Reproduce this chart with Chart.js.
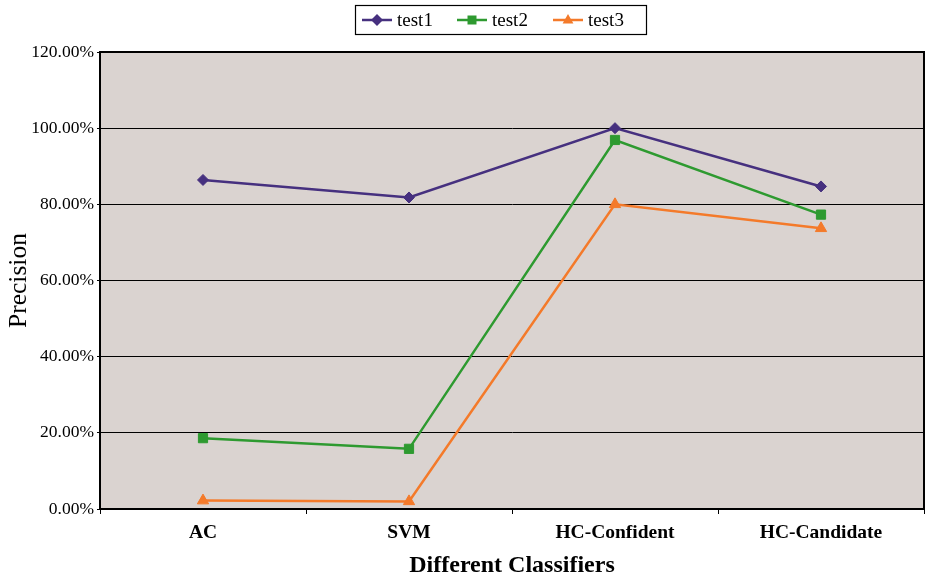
<!DOCTYPE html>
<html>
<head>
<meta charset="utf-8">
<script src="https://cdn.jsdelivr.net/npm/chart.js@4/dist/chart.umd.min.js"></script>
<style>
  html, body { margin: 0; padding: 0; background: #ffffff; overflow: hidden; }
  canvas { display: block; }
</style>
</head>
<body>
<canvas id="chart" width="926" height="580"></canvas>
<script>
// Classifier precision per test run (percent)
const categories = ['AC', 'SVM', 'HC-Confident', 'HC-Candidate'];
const test1 = [86.4, 81.8, 100.0, 84.7];
const test2 = [18.6, 15.8, 96.9, 77.3];
const test3 = [2.2, 2.0, 80.0, 73.7];
const seriesNames = ['test1', 'test2', 'test3'];
const yTicks = [0, 20, 40, 60, 80, 100, 120];

const colors = ['#46307f', '#2e9a30', '#f47a2a'];
const styles = ['rectRot', 'rect', 'triangle'];
const radii = [5.5, 6.5, 6.5];

const serif = '"Liberation Serif", "Times New Roman", serif';

// Plot background and frame
const plotFrame = {
  id: 'plotFrame',
  beforeDraw(chart) {
    const { ctx, chartArea: a } = chart;
    ctx.save();
    ctx.fillStyle = '#dad3d0';
    ctx.fillRect(a.left, a.top, a.right - a.left, a.bottom - a.top);
    ctx.restore();
  },
  afterDatasetsDraw(chart) {
    const { ctx, chartArea: a } = chart;
    ctx.save();
    ctx.strokeStyle = '#000000';
    ctx.lineWidth = 2;
    ctx.strokeRect(a.left, a.top, a.right - a.left, a.bottom - a.top);
    ctx.restore();
  }
};

function drawMarker(ctx, style, r, x, y) {
  if (style === 'rectRot') {
    ctx.moveTo(x, y - r); ctx.lineTo(x + r, y); ctx.lineTo(x, y + r); ctx.lineTo(x - r, y); ctx.closePath();
  } else if (style === 'rect') {
    ctx.rect(x - r * 0.75, y - r * 0.75, r * 1.5, r * 1.5);
  } else {
    ctx.moveTo(x, y - r); ctx.lineTo(x + r * 0.9, y + r * 0.6); ctx.lineTo(x - r * 0.9, y + r * 0.6); ctx.closePath();
  }
}

// Boxed legend with line + marker swatches
const boxLegend = {
  id: 'boxLegend',
  afterDraw(chart) {
    const { ctx } = chart;
    const box = { x: 355.5, y: 5.5, w: 291, h: 29 };
    ctx.save();
    ctx.strokeStyle = '#000000';
    ctx.lineWidth = 1.2;
    ctx.strokeRect(box.x, box.y, box.w, box.h);
    ctx.font = '19px ' + serif;
    ctx.textBaseline = 'middle';
    const starts = [362, 457, 553];
    const cy = 20;
    chart.data.datasets.forEach((ds, i) => {
      const x0 = starts[i];
      ctx.strokeStyle = ds.borderColor;
      ctx.lineWidth = 2.5;
      ctx.beginPath();
      ctx.moveTo(x0, cy);
      ctx.lineTo(x0 + 30, cy);
      ctx.stroke();
      ctx.fillStyle = ds.pointBackgroundColor;
      ctx.beginPath();
      drawMarker(ctx, ds.pointStyle, 6, x0 + 15, cy);
      ctx.fill();
      ctx.fillStyle = '#000000';
      ctx.fillText(ds.label, x0 + 35, cy + 1);
    });
    ctx.restore();
  }
};

const seriesData = [test1, test2, test3];
const datasets = seriesNames.map((name, i) => ({
  label: name,
  data: seriesData[i],
  borderColor: colors[i],
  backgroundColor: colors[i],
  pointBackgroundColor: colors[i],
  pointBorderColor: colors[i],
  pointStyle: styles[i],
  pointRadius: radii[i],
  pointBorderWidth: 1,
  borderWidth: 2.5,
  tension: 0,
  fill: false
}));

new Chart(document.getElementById('chart'), {
  type: 'line',
  data: { labels: categories, datasets },
  options: {
    responsive: false,
    animation: false,
    devicePixelRatio: 1,
    layout: { autoPadding: false, padding: { top: 52, right: 2, left: 0, bottom: 0 } },
    plugins: {
      legend: { display: false },
      tooltip: { enabled: false }
    },
    scales: {
      x: {
        type: 'category',
        offset: true,
        grid: {
          offset: true,
          drawOnChartArea: false,
          color: '#000000',
          tickLength: 5,
          lineWidth: 1
        },
        border: { display: true, color: '#000000', width: 2 },
        ticks: {
          color: '#000000',
          font: { family: serif, size: 19.5, weight: 'bold' },
          padding: 7,
          maxRotation: 0
        },
        title: {
          display: true,
          text: 'Different Classifiers',
          color: '#000000',
          font: { family: serif, size: 24, weight: 'bold' },
          padding: { top: 5, bottom: 0 }
        },
        afterFit(scale) {
          scale.height = 71;
          scale.paddingLeft = 0;
          scale.paddingRight = 0;
        }
      },
      y: {
        min: 0,
        max: 120,
        afterBuildTicks(scale) { scale.ticks = yTicks.map(v => ({ value: v })); },
        grid: {
          color: '#000000',
          lineWidth: 1,
          tickLength: 3,
          drawTicks: true
        },
        border: { display: true, color: '#000000', width: 2 },
        ticks: {
          color: '#000000',
          font: { family: serif, size: 17.5 },
          padding: 3,
          callback: v => v.toFixed(2) + '%'
        },
        title: {
          display: true,
          text: 'Precision',
          color: '#000000',
          font: { family: serif, size: 25.5 },
          padding: { top: 4, bottom: 0 }
        },
        afterFit(scale) { scale.width = 100; }
      }
    }
  },
  plugins: [plotFrame, boxLegend]
});
</script>
</body>
</html>
